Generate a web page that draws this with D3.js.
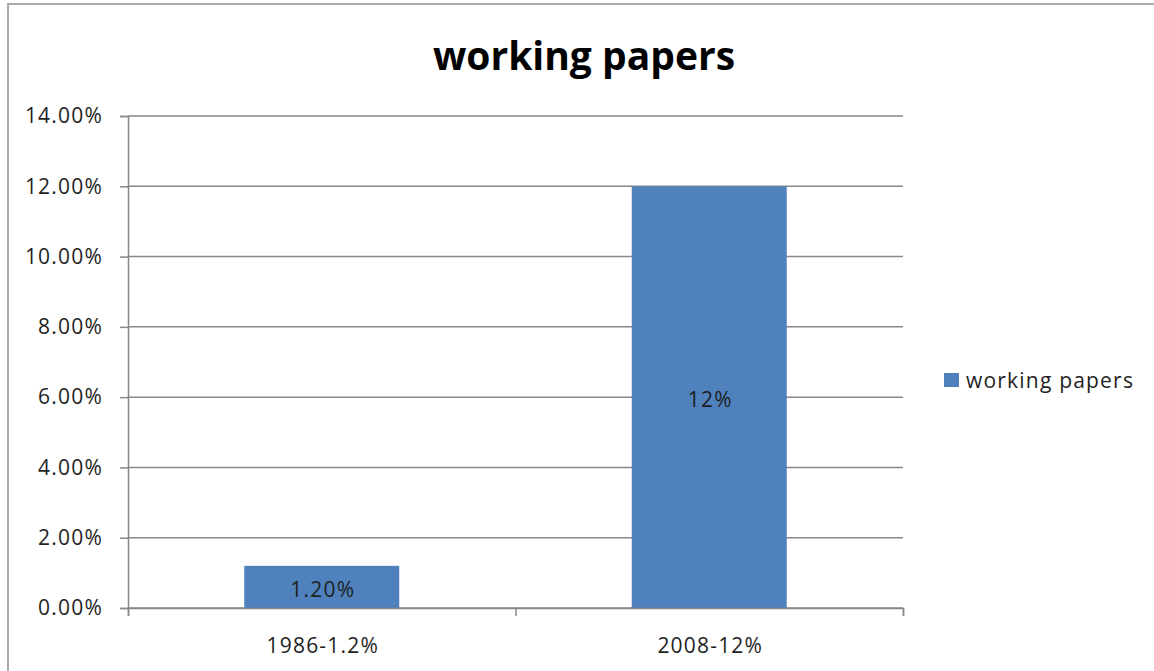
<!DOCTYPE html>
<html>
<head>
<meta charset="utf-8">
<script src="https://cdn.jsdelivr.net/npm/d3@7"></script>
<style>
  html, body { margin: 0; padding: 0; background: #fff; }
  svg { display: block; font-family: "Open Sans", "Noto Sans", sans-serif; }
</style>
</head>
<body>
<svg id="chart" width="1154" height="671"></svg>
<script>
// Chart data
const title = "working papers";
const seriesName = "working papers";
const categories = ["1986-1.2%", "2008-12%"];
const values = [1.2, 12];
const valueLabels = ["1.20%", "12%"];
const yTicks = [0, 2, 4, 6, 8, 10, 12, 14];

const W = 1154, H = 671;
const plot = { left: 128, right: 903, top: 116, bottom: 608 };
const barColor = "#4f81bd";
const gridColor = "#888888";
const textColor = "#1f1f1f";
const labelSize = 21;
const labelSpacing = "1.2px";

const svg = d3.select("#chart");

// Outer chart frame (runs past the right and bottom edges)
svg.append("rect")
  .attr("x", 8).attr("y", 4)
  .attr("width", W + 20).attr("height", H + 20)
  .attr("fill", "#fff")
  .attr("stroke", "#ababab").attr("stroke-width", 2);

// Title
svg.append("text")
  .attr("x", 584).attr("y", 70)
  .attr("text-anchor", "middle")
  .attr("font-size", 39).attr("font-weight", "bold")
  .attr("fill", "#000")
  .text(title);

// Scales
const x = d3.scaleBand()
  .domain(categories)
  .range([plot.left, plot.right])
  .paddingInner(0.6)
  .paddingOuter(0.3);

const xEdges = d3.scaleLinear()
  .domain([0, categories.length])
  .range([plot.left, plot.right]);

const y = d3.scaleLinear()
  .domain([0, 14])
  .range([plot.bottom, plot.top]);

// Horizontal gridlines
svg.append("g")
  .selectAll("line")
  .data(yTicks)
  .join("line")
  .attr("x1", plot.left).attr("x2", plot.right)
  .attr("y1", d => y(d)).attr("y2", d => y(d))
  .attr("stroke", gridColor).attr("stroke-width", 1.5);

// Y axis
const yAxis = svg.append("g")
  .attr("transform", `translate(${plot.left},0)`)
  .call(d3.axisLeft(y)
    .tickValues(yTicks)
    .tickSize(8)
    .tickPadding(17)
    .tickFormat(d => d.toFixed(2) + "%"));
yAxis.select(".domain").attr("stroke", gridColor).attr("stroke-width", 1.5);
yAxis.selectAll(".tick line").attr("stroke", gridColor).attr("stroke-width", 1.5);
yAxis.selectAll(".tick text")
  .attr("font-size", labelSize).attr("fill", textColor)
  .attr("letter-spacing", labelSpacing)
  .attr("font-family", "'Open Sans', sans-serif");

// Bars
svg.append("g")
  .selectAll("rect")
  .data(values)
  .join("rect")
  .attr("x", (d, i) => x(categories[i]))
  .attr("y", d => y(d))
  .attr("width", x.bandwidth())
  .attr("height", d => y(0) - y(d))
  .attr("fill", barColor);

// Value labels inside bars
svg.append("g")
  .selectAll("text")
  .data(values)
  .join("text")
  .attr("x", (d, i) => x(categories[i]) + x.bandwidth() / 2 + 1)
  .attr("y", d => (y(d) + y(0)) / 2 + 3)
  .attr("dy", "0.35em")
  .attr("text-anchor", "middle")
  .attr("font-size", labelSize).attr("fill", textColor)
  .attr("letter-spacing", labelSpacing)
  .text((d, i) => valueLabels[i]);

// X axis: line and boundary ticks
const xAxis = svg.append("g")
  .attr("transform", `translate(0,${plot.bottom})`)
  .call(d3.axisBottom(xEdges)
    .tickValues(d3.range(categories.length + 1))
    .tickSize(8)
    .tickFormat(""));
xAxis.select(".domain").attr("stroke", gridColor).attr("stroke-width", 1.5);
xAxis.selectAll(".tick line").attr("stroke", gridColor).attr("stroke-width", 1.5);

// X axis category labels
const xLabels = svg.append("g")
  .attr("transform", `translate(1,${plot.bottom})`)
  .call(d3.axisBottom(x).tickSize(0).tickPadding(30));
xLabels.select(".domain").remove();
xLabels.selectAll(".tick text")
  .attr("font-size", labelSize).attr("fill", textColor)
  .attr("letter-spacing", labelSpacing)
  .attr("font-family", "'Open Sans', sans-serif");

// Legend
const legend = svg.append("g").attr("transform", "translate(944,373)");
legend.append("rect")
  .attr("width", 15).attr("height", 14)
  .attr("fill", barColor);
legend.append("text")
  .attr("x", 22).attr("y", 8)
  .attr("dy", "0.35em")
  .attr("font-size", labelSize).attr("fill", textColor)
  .attr("letter-spacing", labelSpacing)
  .text(seriesName);
</script>
</body>
</html>
